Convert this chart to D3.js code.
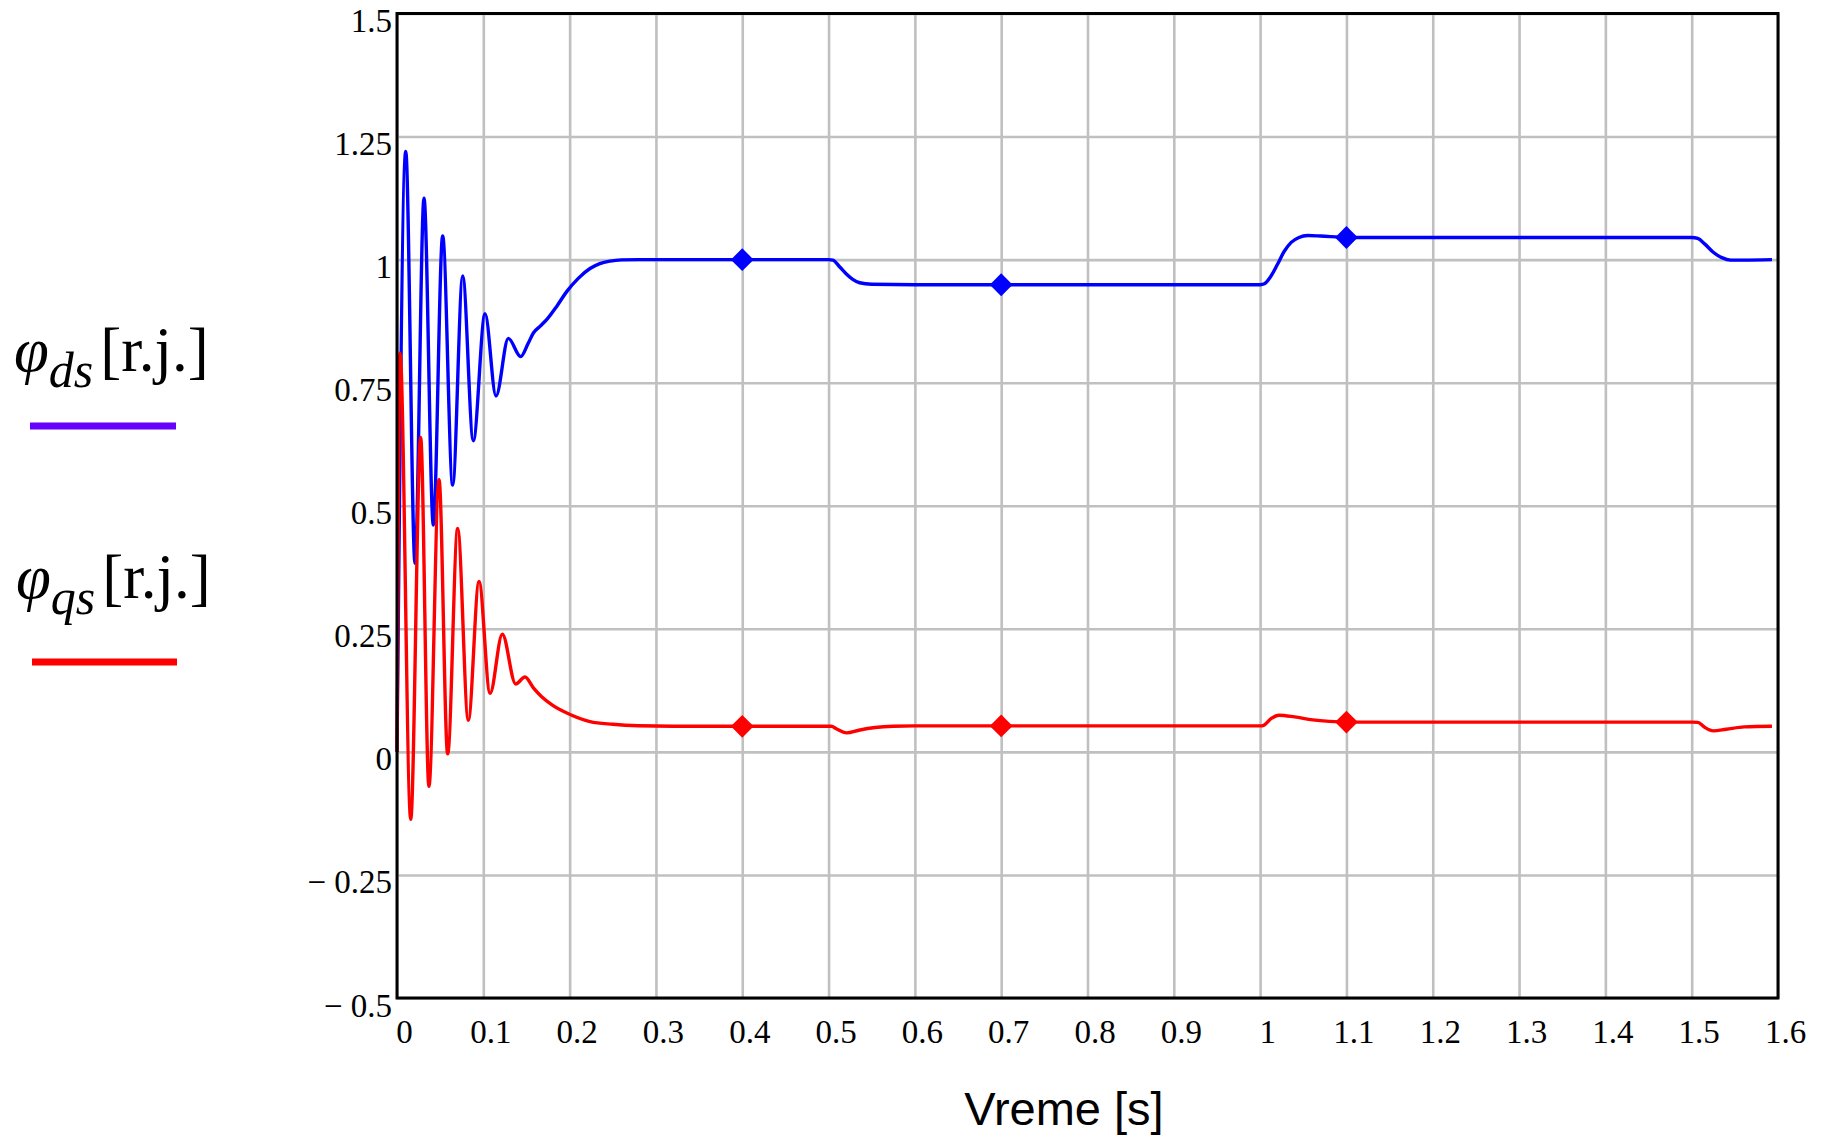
<!DOCTYPE html>
<html>
<head>
<meta charset="utf-8">
<script src="https://cdn.jsdelivr.net/npm/d3@7"></script>
<style>
  body { margin: 0; background: #fff; }
  svg { display: block; }
  .tick-label { font-family: "Liberation Serif", "Times New Roman", serif; font-size: 33px; fill: #000; }
  .axis-title { font-family: "Liberation Sans", Arial, sans-serif; font-size: 47px; fill: #000; }
  .legend { font-family: "Liberation Serif", "Times New Roman", serif; fill: #000; }
</style>
</head>
<body>
<script>
'use strict';

// flux d (blue)
const dsTime = [0, 0.0101, 0.0209, 0.0313, 0.0421, 0.0529, 0.0645, 0.0761, 0.0884, 0.102, 0.1147,
  0.129, 0.1433, 0.152, 0.158, 0.166, 0.1734, 0.185, 0.1966, 0.21, 0.2236, 0.235, 0.2468, 0.26, 0.28,
  0.4, 0.5, 0.505, 0.513, 0.52, 0.528, 0.536, 0.55, 0.6, 0.7, 1.0, 1.005, 1.012, 1.02, 1.028, 1.036,
  1.045, 1.055, 1.07, 1.1, 1.5, 1.507, 1.515, 1.525, 1.535, 1.545, 1.56, 1.593];
const dsFlux = [0, 1.22, 0.383, 1.125, 0.461, 1.048, 0.542, 0.967, 0.632, 0.89, 0.723,
  0.84, 0.803, 0.83, 0.851, 0.865, 0.878, 0.905, 0.935, 0.962, 0.982, 0.992, 0.997, 0.9995, 1.0,
  1.0, 1.0, 0.999, 0.985, 0.972, 0.96, 0.953, 0.95, 0.949, 0.949, 0.949, 0.951, 0.965, 0.99, 1.017, 1.035,
  1.045, 1.049, 1.048, 1.045, 1.045, 1.043, 1.032, 1.015, 1.004, 0.999, 0.999, 1.0];

// flux q (red)
const qsTime = [0, 0.0035, 0.0159, 0.0274, 0.037, 0.0487, 0.0587, 0.0703, 0.0826, 0.095, 0.1078,
  0.122, 0.1375, 0.1483, 0.158, 0.1676, 0.18, 0.2005, 0.2236, 0.25, 0.28, 0.32, 0.4, 0.503,
  0.51, 0.521, 0.535, 0.554, 0.575, 0.6, 0.7, 1.0, 1.004, 1.013, 1.022, 1.04, 1.061, 1.08, 1.1,
  1.5, 1.507, 1.515, 1.525, 1.54, 1.561, 1.593];
const qsFlux = [0, 0.81, -0.137, 0.639, -0.07, 0.553, -0.004, 0.454, 0.064, 0.346, 0.119,
  0.239, 0.138, 0.152, 0.13, 0.112, 0.095, 0.076, 0.0615, 0.056, 0.053, 0.052, 0.052, 0.052,
  0.046, 0.0386, 0.044, 0.0494, 0.052, 0.0528, 0.0528, 0.0528, 0.054, 0.068, 0.0745, 0.071, 0.065, 0.062, 0.0605,
  0.0605, 0.06, 0.05, 0.0427, 0.046, 0.0508, 0.052];

// marker positions
const markerTime = [0.4, 0.7, 1.1];
const dsMarkers = [1.0, 0.949, 1.045];
const qsMarkers = [0.052, 0.0528, 0.0605];

// ticks
const xTicks = [0, 0.1, 0.2, 0.3, 0.4, 0.5, 0.6, 0.7, 0.8, 0.9, 1, 1.1, 1.2, 1.3, 1.4, 1.5, 1.6];
const xTickLabels = ["0", "0.1", "0.2", "0.3", "0.4", "0.5", "0.6", "0.7", "0.8", "0.9", "1", "1.1", "1.2", "1.3", "1.4", "1.5", "1.6"];
const yTicks = [-0.5, -0.25, 0, 0.25, 0.5, 0.75, 1, 1.25, 1.5];
const yTickLabels = ["\u2212 0.5", "\u2212 0.25", "0", "0.25", "0.5", "0.75", "1", "1.25", "1.5"];

(function() {

  let width = 1825;
  let height = 1138;
  let plot = {left: 397, right: 1778, top: 13.5, bottom: 998};

  window.onload = function() {
    let svg = d3.select('body').append('svg')
      .attr('width', width)
      .attr('height', height);

    svg.append('rect')
      .attr('width', width)
      .attr('height', height)
      .attr('fill', '#fff');

    let xScale = d3.scaleLinear().domain([0, 1.6]).range([plot.left, plot.right]);
    let yScale = d3.scaleLinear().domain([-0.5, 1.5]).range([plot.bottom, plot.top]);

    drawGrid(svg, xScale, yScale);
    plotData(svg, xScale, yScale);
    drawFrame(svg);
    drawTicks(svg, xScale, yScale);
    makeLegend(svg);

    svg.append('text')
      .attr('class', 'axis-title')
      .attr('x', 1064)
      .attr('y', 1125)
      .attr('text-anchor', 'middle')
      .text('Vreme [s]');
  }

  // grey grid lines under the data
  function drawGrid(svg, xScale, yScale) {
    let xGrid = d3.axisBottom(xScale)
      .tickValues(xTicks)
      .tickSize(-(plot.bottom - plot.top))
      .tickFormat('');
    let yGrid = d3.axisLeft(yScale)
      .tickValues(yTicks)
      .tickSize(-(plot.right - plot.left))
      .tickFormat('');

    let gx = svg.append('g')
      .attr('transform', 'translate(0, ' + plot.bottom + ')')
      .call(xGrid);
    let gy = svg.append('g')
      .attr('transform', 'translate(' + plot.left + ', 0)')
      .call(yGrid);

    [gx, gy].forEach((g) => {
      g.select('.domain').remove();
      g.selectAll('line')
        .attr('stroke', '#c0c0c0')
        .attr('stroke-width', 2.6);
    });
  }

  function drawFrame(svg) {
    svg.append('rect')
      .attr('x', plot.left)
      .attr('y', plot.top)
      .attr('width', plot.right - plot.left)
      .attr('height', plot.bottom - plot.top)
      .attr('fill', 'none')
      .attr('stroke', '#000')
      .attr('stroke-width', 3);
  }

  // tick labels only, no tick marks
  function drawTicks(svg, xScale, yScale) {
    let xAxis = d3.axisBottom(xScale)
      .tickValues(xTicks)
      .tickSize(0)
      .tickFormat((d, i) => xTickLabels[i]);
    let yAxis = d3.axisLeft(yScale)
      .tickValues(yTicks)
      .tickSize(0)
      .tickFormat((d, i) => yTickLabels[i]);

    let gx = svg.append('g')
      .attr('transform', 'translate(0, ' + plot.bottom + ')')
      .call(xAxis);
    gx.select('.domain').remove();
    gx.selectAll('text')
      .attr('class', 'tick-label')
      .attr('y', 44.5)
      .attr('dy', 0)
      .attr('dx', 7);

    let gy = svg.append('g')
      .attr('transform', 'translate(' + plot.left + ', 0)')
      .call(yAxis);
    gy.select('.domain').remove();
    gy.selectAll('text')
      .attr('class', 'tick-label')
      .attr('x', -5)
      .attr('dy', 18);
    gx.attr('font-family', null).attr('font-size', null);
    gy.attr('font-family', null).attr('font-size', null);
  }

  function plotData(svg, xScale, yScale) {
    let series = [
      {time: dsTime, flux: dsFlux, marks: dsMarkers, color: '#0000ff'},
      {time: qsTime, flux: qsFlux, marks: qsMarkers, color: '#ff0000'}
    ];

    let line = d3.line()
      .x((d) => xScale(d.t))
      .y((d) => yScale(d.v))
      .curve(d3.curveMonotoneX);

    // square turned 45 degrees
    let diamond = d3.symbol().type(d3.symbolSquare).size(260);

    series.forEach((s) => {
      let rows = s.time.map((t, i) => ({t: t, v: s.flux[i]}));
      svg.append('path')
        .datum(rows)
        .attr('fill', 'none')
        .attr('stroke', s.color)
        .attr('stroke-width', 3.4)
        .attr('stroke-linejoin', 'round')
        .attr('d', line);

      svg.selectAll(null)
        .data(markerTime.map((t, i) => ({t: t, v: s.marks[i]})))
        .enter()
        .append('path')
          .attr('d', diamond)
          .attr('fill', s.color)
          .attr('transform', (d) => 'translate(' + xScale(d.t) + ',' + yScale(d.v) + ') rotate(45)');
    });
  }

  function makeLegend(svg) {
    let entries = [
      {sub: 'ds', x: 14, y: 371, lineY: 426, x1: 30, x2: 176, color: '#6600ff'},
      {sub: 'qs', x: 16, y: 598, lineY: 662, x1: 32, x2: 177, color: '#ff0000'}
    ];

    entries.forEach((e) => {
      let text = svg.append('text')
        .attr('class', 'legend')
        .attr('x', e.x)
        .attr('y', e.y);
      text.append('tspan')
        .attr('font-style', 'italic')
        .attr('font-size', 63)
        .text('\u03c6');
      text.append('tspan')
        .attr('font-style', 'italic')
        .attr('font-size', 50)
        .attr('dy', 16)
        .text(e.sub);
      text.append('tspan')
        .attr('font-size', 63)
        .attr('dx', 7)
        .attr('dy', -16)
        .text('[r.j.]');

      svg.append('line')
        .attr('x1', e.x1)
        .attr('x2', e.x2)
        .attr('y1', e.lineY)
        .attr('y2', e.lineY)
        .attr('stroke', e.color)
        .attr('stroke-width', 7);
    });
  }

})();
</script>
</body>
</html>
